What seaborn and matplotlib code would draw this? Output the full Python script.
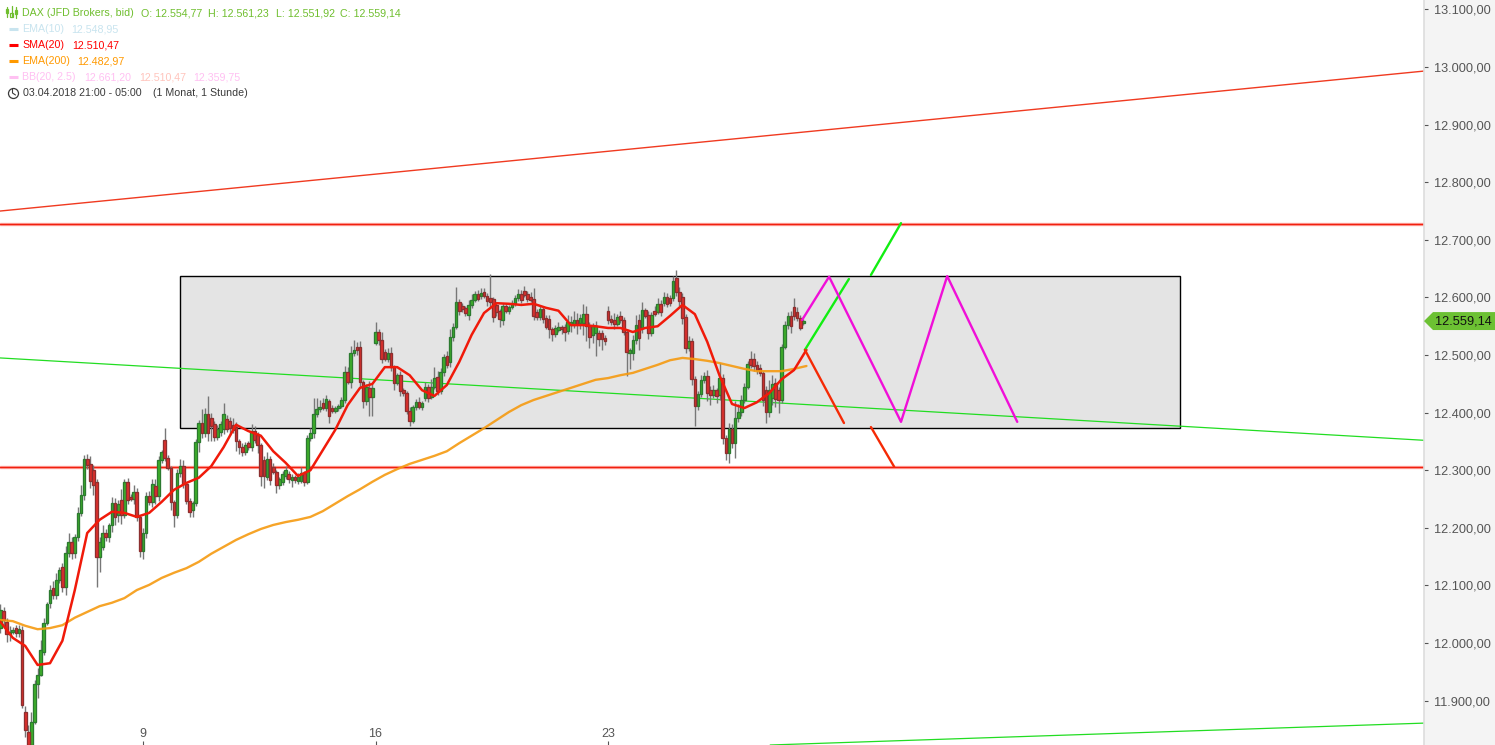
import pandas as pd
import numpy as np
import matplotlib.pyplot as plt
from matplotlib.lines import Line2D
from matplotlib.patches import Rectangle, Polygon
from matplotlib.ticker import FixedLocator, FixedFormatter
import seaborn as sns

# hourly candles
opens = [12026,12056,12037,12016,12019,12026,12017,12023,11880,11846,11823,11863,11929,11945,11985,12035,12070,12096,12084,12110,
12132,12097,12156,12175,12156,12184,12226,12257,12320,12311,12300,12280,12149,12167,12191,12184,12205,12243,12222,12248,
12222,12280,12254,12250,12262,12219,12160,12191,12255,12245,12273,12255,12318,12353,12321,12304,12245,12222,12295,12307,
12276,12247,12231,12243,12349,12382,12365,12398,12391,12380,12358,12366,12372,12389,12386,12379,12375,12351,12340,12332,
12347,12340,12368,12361,12344,12318,12288,12320,12306,12297,12274,12280,12290,12294,12283,12288,12281,12281,12295,12280,
12356,12365,12398,12406,12417,12408,12420,12408,12403,12408,12412,12422,12471,12453,12504,12514,12514,12453,12420,12443,
12427,12521,12540,12526,12505,12493,12504,12479,12452,12465,12439,12434,12403,12386,12410,12419,12410,12425,12445,12427,
12445,12462,12438,12471,12498,12488,12531,12549,12592,12585,12582,12570,12587,12596,12606,12603,12609,12603,12599,12597,
12587,12577,12561,12585,12577,12583,12590,12599,12606,12611,12606,12601,12597,12575,12566,12580,12564,12563,12545,12537,
12544,12549,12549,12542,12552,12552,12561,12556,12556,12571,12551,12535,12538,12538,12538,12530,12577,12563,12561,12554,
12568,12561,12540,12504,12504,12526,12561,12547,12578,12570,12538,12577,12575,12589,12590,12601,12599,12599,12634,12609,
12601,12566,12512,12524,12458,12412,12432,12457,12464,12439,12431,12439,12431,12460,12356,12330,12372,12347,12391,12401,
12422,12445,12493,12493,12483,12478,12469,12439,12401,12425,12452,12439,12422,12514,12552,12568,12583,12575,12564,12555]
closes = [12058,12040,12016,12019,12023,12017,12024,11893,11849,11823,11863,11929,11945,11988,12035,12068,12092,12084,12110,12127,
12097,12156,12175,12156,12184,12226,12257,12320,12309,12281,12274,12149,12175,12191,12184,12205,12243,12219,12241,12222,
12280,12248,12250,12262,12219,12160,12191,12255,12245,12276,12255,12318,12332,12321,12304,12245,12222,12295,12307,12276,
12247,12228,12243,12349,12382,12365,12398,12365,12377,12358,12372,12380,12398,12372,12373,12370,12351,12340,12332,12344,
12340,12368,12353,12344,12290,12290,12320,12283,12297,12274,12285,12294,12300,12285,12288,12283,12288,12295,12280,12356,
12365,12398,12406,12410,12408,12424,12394,12403,12408,12412,12422,12471,12453,12504,12509,12509,12453,12420,12445,12427,
12443,12540,12526,12493,12493,12504,12479,12452,12465,12438,12434,12403,12386,12410,12419,12410,12417,12445,12425,12445,
12460,12438,12471,12497,12483,12531,12549,12592,12577,12580,12573,12587,12596,12606,12597,12608,12603,12594,12592,12566,
12575,12563,12585,12577,12583,12590,12599,12606,12596,12604,12597,12596,12568,12566,12580,12563,12549,12545,12537,12547,
12549,12545,12540,12557,12557,12561,12554,12564,12571,12551,12531,12551,12551,12528,12528,12524,12561,12557,12554,12566,
12561,12540,12505,12509,12526,12552,12530,12578,12568,12538,12570,12571,12589,12575,12601,12589,12590,12629,12609,12594,
12564,12512,12524,12458,12412,12432,12457,12464,12434,12431,12439,12429,12460,12356,12330,12372,12347,12391,12401,12422,
12445,12484,12483,12481,12474,12469,12422,12401,12439,12450,12424,12422,12514,12552,12568,12551,12568,12564,12547,12559]
wick_up = [9,7,7,10,5,5,8,7,10,12,18,7,12,17,8,4,8,11,12,5,
7,13,16,9,6,10,18,6,8,14,9,5,9,14,7,4,11,9,8,19,
5,6,4,13,8,3,9,7,9,9,12,7,4,21,6,3,4,7,13,10,
4,5,3,5,6,25,10,31,8,6,7,5,19,7,6,12,8,4,7,5,
4,12,9,5,3,6,11,5,7,4,4,5,7,4,6,4,8,10,3,6,
9,28,19,12,8,7,3,5,4,3,5,10,8,11,17,9,10,3,4,12,
7,17,5,14,5,9,10,4,3,7,4,3,6,4,5,8,4,9,5,13,
20,10,7,5,9,14,7,26,6,5,4,9,10,6,7,9,7,5,41,3,
4,3,5,6,4,5,6,9,7,9,6,9,20,5,6,4,5,7,4,6,
8,4,5,13,11,16,12,8,17,14,6,5,8,6,5,4,8,7,12,6,
9,5,5,4,8,18,10,14,4,6,4,9,10,7,9,6,5,8,14,10,
7,5,9,6,5,6,8,7,10,8,9,4,26,7,6,10,9,30,14,8,
6,5,14,10,7,6,4,7,18,15,9,6,5,7,6,8,16,9,5,4]
wick_dn = [8,14,15,12,4,6,7,5,12,10,5,4,24,3,5,4,9,8,7,5,
9,14,6,10,8,6,5,9,6,12,17,52,26,5,7,8,12,14,12,16,
5,7,4,8,7,10,14,8,6,8,14,8,6,5,4,14,20,5,7,6,
6,9,12,5,18,9,8,14,26,8,6,7,9,6,12,5,18,12,8,6,
4,7,6,14,17,20,5,9,4,14,7,5,6,8,12,6,5,4,7,4,
5,9,6,5,4,5,12,4,3,5,4,5,4,10,5,9,10,12,7,33,
33,4,8,6,3,5,7,12,4,9,5,6,9,4,6,3,5,4,7,3,
4,8,5,7,6,9,6,4,7,5,6,9,5,4,3,5,4,9,11,9,
7,14,8,4,5,3,4,5,6,4,5,4,8,6,5,7,4,15,12,6,
4,9,15,6,12,5,18,10,22,27,19,14,40,12,19,6,7,5,9,4,
5,6,42,28,13,6,21,9,4,10,5,4,4,8,5,6,5,6,7,9,
10,8,5,10,35,8,5,6,14,17,6,12,9,10,12,17,9,26,7,6,
5,4,5,9,7,6,10,19,8,11,14,23,5,4,6,12,7,5,4,3]

# moving averages, one reading every 4 bars
sma20 = [12037,12009,11995,11962,11965,12004,12092,12191,12214,12228,12226,12219,12226,12245,12266,12278,12287,12307,12340,12379,
12368,12360,12333,12313,12290,12300,12335,12370,12413,12443,12450,12479,12479,12465,12439,12429,12448,12488,12535,12573,
12590,12589,12587,12589,12582,12577,12552,12552,12550,12547,12547,12540,12547,12550,12568,12587,12571,12523,12464,12415,
12408,12418,12434,12458,12474,12509]
ema200 = [12040,12038,12030,12024,12026,12031,12044,12054,12064,12070,12078,12092,12101,12113,12122,12130,12141,12155,12167,12179,
12189,12198,12205,12210,12214,12219,12229,12242,12255,12267,12280,12292,12302,12311,12318,12325,12333,12347,12360,12373,
12387,12401,12413,12422,12429,12436,12443,12450,12457,12460,12465,12469,12476,12483,12491,12495,12493,12490,12486,12481,
12476,12472,12472,12472,12476,12481]

price_ticks = [11900,12000,12100,12200,12300,12400,12500,12600,12700,12800,12900,13000,13100]
price_labels = ['11.900,00','12.000,00','12.100,00','12.200,00','12.300,00','12.400,00','12.500,00',
                '12.600,00','12.700,00','12.800,00','12.900,00','13.000,00','13.100,00']
day_ticks = [46,121,196]
day_labels = ['9','16','23']

# hand drawn levels (bar, price)
upper_red_bars, upper_red_prices = [-0.13,459.2], [12750,12993]
mid_green_bars, mid_green_prices = [-0.13,459.2], [12495,12352]
low_green_bars, low_green_prices = [248.3,459.2], [11823,11861]
red_levels = [12728,12305]
box_bars, box_prices = [57.8,380.5], [12374,12638]
up_a_bars, up_a_prices = [259.5,273.7], [12509,12632]
up_b_bars, up_b_prices = [280.8,290.5], [12639,12729]
down_a_bars, down_a_prices = [259.5,272.1], [12509,12382]
down_b_bars, down_b_prices = [280.8,288.3], [12375,12306]
zigzag_bars = [258.6,267.3,290.5,305.4,328]
zigzag_prices = [12561,12636,12384,12637,12384]

W, H = 1495, 745
PANEL = 1424
UP_FILL, UP_EDGE = '#3fb02a', '#2c7a30'
DOWN_FILL, DOWN_EDGE = '#e0302c', '#8c2f2f'


def line(ax, xs, ys, color, width, **kw):
    sns.lineplot(x=xs, y=ys, ax=ax, color=color, linewidth=width, estimator=None, legend=False, **kw)


def draw_candles(ax, df):
    ax.vlines(df['bar'], df['low'], df['high'], color='#777777', linewidth=1.0, zorder=3)
    for up, fill, edge in [(True, UP_FILL, UP_EDGE), (False, DOWN_FILL, DOWN_EDGE)]:
        part = df[(df['close'] >= df['open']) == up]
        ax.bar(part['bar'], (part['close'] - part['open']).abs(), bottom=part[['open', 'close']].min(axis=1),
               width=0.85, color=fill, edgecolor=edge, linewidth=0.95, zorder=4)


def draw_header(fig):
    def put(x, y, s, color):
        fig.text(x / W, 1 - (y + 0.5) / H, s, color=color, fontsize=7.7, va='center', ha='left', family='Liberation Sans')

    def dash(y, color):
        fig.add_artist(Line2D([9 / W, 18 / W], [1 - y / H] * 2, color=color, lw=2.2, solid_capstyle='butt'))

    green = '#6fbe2e'
    for x0, y0, y1, bx in [(7, 7, 17, 9), (11.5, 6, 16, 13), (16, 7, 18, 10)]:
        fig.add_artist(Line2D([x0 / W] * 2, [1 - y0 / H, 1 - y1 / H], color=green, lw=0.9))
        fig.add_artist(Rectangle(((x0 - 1.3) / W, 1 - (bx + 4) / H), 2.6 / W, 4 / H, fc='none', ec=green, lw=0.9))
    put(22, 13, 'DAX (JFD Brokers, bid)', green)
    put(141, 13, 'O: 12.554,77', green)
    put(208, 13, 'H: 12.561,23', green)
    put(276, 13, 'L: 12.551,92', green)
    put(340, 13, 'C: 12.559,14', green)
    dash(29, '#c8e4ef')
    put(22, 29, 'EMA(10)', '#c8e4ef')
    put(71, 29, '12.548,95', '#c8e4ef')
    dash(45, '#ff0000')
    put(22, 45, 'SMA(20)', '#ff0000')
    put(72, 45, '12.510,47', '#ff0000')
    dash(61, '#ff9900')
    put(22, 61, 'EMA(200)', '#ff9900')
    put(77, 61, '12.482,97', '#ff9900')
    dash(77, '#ffc0f2')
    put(22, 77, 'BB(20, 2.5)', '#ffc0f2')
    put(84, 77, '12.661,20', '#ffc0f2')
    put(139, 77, '12.510,47', '#ffc4bc')
    put(193, 77, '12.359,75', '#ffc0f2')
    put(23, 93, '03.04.2018 21:00 - 05:00', '#3a3a3a')
    put(153, 93, '(1 Monat, 1 Stunde)', '#3a3a3a')
    # little clock in front of the time stamp
    fig.add_artist(Line2D([12.5 / W, 12.5 / W, 15.5 / W], [1 - 88.5 / H, 1 - 93 / H, 1 - 95 / H], color='#3a3a3a', lw=0.8))
    fig.add_artist(Line2D([12.5 / W], [1 - 92.5 / H], marker='o', ms=7.2, mfc='none', mec='#3a3a3a', mew=0.9))


sns.set_style('white')
plt.rcParams['font.family'] = ['Liberation Sans', 'DejaVu Sans']

candles = pd.DataFrame({'open': opens, 'close': closes, 'up': wick_up, 'dn': wick_dn})
candles['bar'] = candles.index
candles['high'] = candles[['open', 'close']].max(axis=1) + candles['up']
candles['low'] = candles[['open', 'close']].min(axis=1) - candles['dn']

fig = plt.figure(figsize=(W / 100, H / 100), dpi=100, facecolor='white')
fig.add_artist(Rectangle((PANEL / W, 0), 1 - PANEL / W, 1, fc='#f4f4f4', ec='none', zorder=-5))
ax = fig.add_axes([0, 0, PANEL / W, 1], facecolor='white')
ax.set_xlim(-0.13, 459.2)
ax.set_ylim(11823, 13116.4)

ax.add_patch(Rectangle((box_bars[0], box_prices[0]), box_bars[1] - box_bars[0], box_prices[1] - box_prices[0],
                       fc='#e4e4e4', ec='black', lw=1.0, zorder=1))
line(ax, upper_red_bars, upper_red_prices, '#f03a20', 1.0, zorder=2)
line(ax, mid_green_bars, mid_green_prices, '#22dd22', 0.9, zorder=2)
line(ax, low_green_bars, low_green_prices, '#22dd22', 0.9, zorder=2)
for level in red_levels:
    ax.axhline(level, color='#ff2a1a', lw=2.4, alpha=0.4, zorder=2)
    ax.axhline(level, color='#f0200f', lw=1.0, zorder=2)

draw_candles(ax, candles)

avg_bars = np.arange(len(sma20)) * 4
line(ax, avg_bars, ema200, '#f59a10', 1.7, alpha=0.9, zorder=5)
line(ax, avg_bars, sma20, '#f01a0a', 1.8, zorder=6)

line(ax, up_a_bars, up_a_prices, '#12ee12', 1.7, zorder=6)
line(ax, up_b_bars, up_b_prices, '#12ee12', 1.7, zorder=6)
line(ax, down_a_bars, down_a_prices, '#f52a05', 1.7, zorder=6)
line(ax, down_b_bars, down_b_prices, '#f52a05', 1.7, zorder=6)
sns.lineplot(x=zigzag_bars, y=zigzag_prices, ax=ax, color='#f00fd8', linewidth=1.7, sort=False, estimator=None, legend=False, zorder=7)

ax.yaxis.tick_right()
ax.yaxis.set_major_locator(FixedLocator(price_ticks))
ax.yaxis.set_major_formatter(FixedFormatter(price_labels))
ax.tick_params(axis='y', direction='out', length=3, width=0.8, color='#555555', labelcolor='#555555', labelsize=9.2, pad=4, right=True)
ax.xaxis.set_major_locator(FixedLocator(day_ticks))
ax.xaxis.set_major_formatter(FixedFormatter(day_labels))
ax.tick_params(axis='x', direction='in', length=3, width=0.8, color='#555555', labelcolor='#555555', labelsize=9, pad=-12, bottom=True)
ax.set_xlabel('')
ax.set_ylabel('')
for name, spine in ax.spines.items():
    spine.set_visible(name == 'right')
ax.spines['right'].set_color('#dddddd')
ax.spines['right'].set_linewidth(1.2)

# last price tag on the axis
tag_price = closes[-1]
trans = ax.get_yaxis_transform()
tag_h = 15.6
ax.add_patch(Polygon([(1.0, tag_price), (1 + 9 / PANEL, tag_price + tag_h), (W / PANEL, tag_price + tag_h),
                      (W / PANEL, tag_price - tag_h), (1 + 9 / PANEL, tag_price - tag_h)],
                     closed=True, transform=trans, fc='#6cc133', ec='none', clip_on=False, zorder=8))
ax.text(1 + 11 / PANEL, tag_price, '12.559,14', transform=trans, color='#111111', fontsize=9.2, va='center', ha='left', zorder=9)

draw_header(fig)

fig.savefig('out.png', dpi=100)
plt.close(fig)
